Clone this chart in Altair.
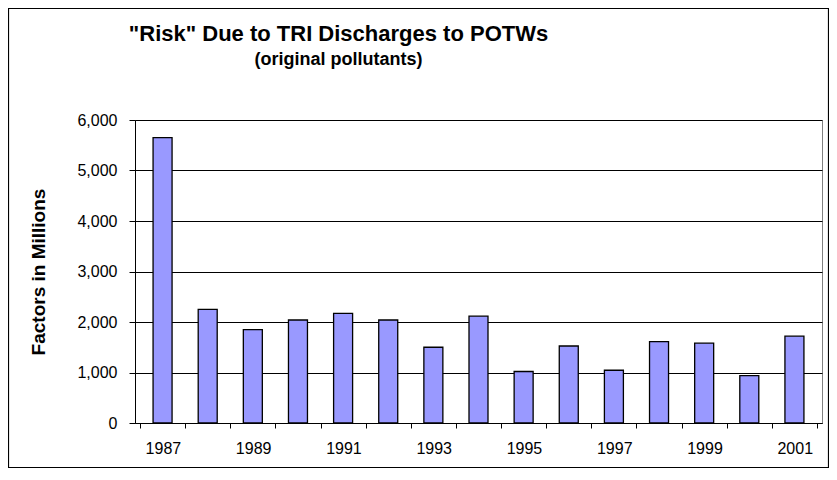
import altair as alt
import pandas as pd

years = [1987, 1988, 1989, 1990, 1991, 1992, 1993, 1994, 1995, 1996, 1997, 1998, 1999, 2000, 2001]
factors = [5650, 2250, 1850, 2040, 2170, 2040, 1500, 2115, 1020, 1525, 1045, 1610, 1580, 940, 1720]
y_ticks = [0, 1000, 2000, 3000, 4000, 5000, 6000]

df = pd.DataFrame({"year": years, "factors": factors})

W, H = 687, 303
boundaries = [y - 0.5 for y in years] + [years[-1] + 0.5]
half_step = W / len(years) / 2

font = "Liberation Sans"

x_axis = alt.Axis(
    values=boundaries,
    labelExpr="(datum.value - 1986.5) % 2 == 0 && datum.value < 2001 ? format(datum.value + 0.5, 'd') : ''",
    labelOffset=half_step,
    labelOverlap=False,
    labelBound=False,
    labelFlush=False,
    grid=False,
    title=None,
    domainColor="black",
    tickColor="black",
    tickSize=5,
    labelFont=font,
    labelFontSize=16,
    labelColor="black",
    labelPadding=12,
)

y_axis = alt.Axis(
    values=y_ticks,
    labelExpr="format(datum.value, ',')",
    grid=True,
    gridColor="black",
    gridWidth=1,
    domainColor="black",
    tickColor="black",
    tickSize=6,
    labelFont=font,
    labelFontSize=16,
    labelColor="black",
    labelPadding=12,
    title="Factors in Millions",
    titleFont=font,
    titleFontSize=19,
    titleFontWeight="bold",
    titleColor="black",
    titleAngle=270,
    titleX=-91,
    titleY=H / 2,
    titleAlign="center",
    titleBaseline="alphabetic",
)

bars = alt.Chart(df).mark_bar(
    size=19, color="#9999FF", stroke="black", strokeWidth=1.3
).encode(
    x=alt.X("year:Q", scale=alt.Scale(domain=[1986.5, 2001.5], nice=False, zero=False), axis=x_axis),
    y=alt.Y("factors:Q", scale=alt.Scale(domain=[0, 6000], nice=False), axis=y_axis),
)

frame = alt.Chart(alt.Data(values=[{"k": 1}])).mark_rect(
    fill=None, stroke="black", strokeWidth=1.2
).encode(
    x=alt.value(-126.5), x2=alt.value(693.5),
    y=alt.value(-111.5), y2=alt.value(347.5),
)

chart = alt.layer(frame, bars).properties(
    width=W,
    height=H,
    padding={"left": 127, "top": 112, "right": 7, "bottom": 45},
    autosize=alt.AutoSizeParams(type="none"),
    background="white",
    title=alt.TitleParams(
        text='"Risk" Due to TRI Discharges to POTWs',
        subtitle="(original pollutants)",
        font=font,
        fontSize=22,
        fontWeight="bold",
        color="black",
        subtitleFont=font,
        subtitleFontSize=18,
        subtitleFontWeight="bold",
        subtitleColor="black",
        subtitlePadding=5,
        anchor="middle",
        frame="group",
        dx=-140,
        offset=-62,
    ),
).configure_view(stroke="#808080", strokeWidth=1)

chart.save("out.html", embed_options={"renderer": "svg", "actions": False})
